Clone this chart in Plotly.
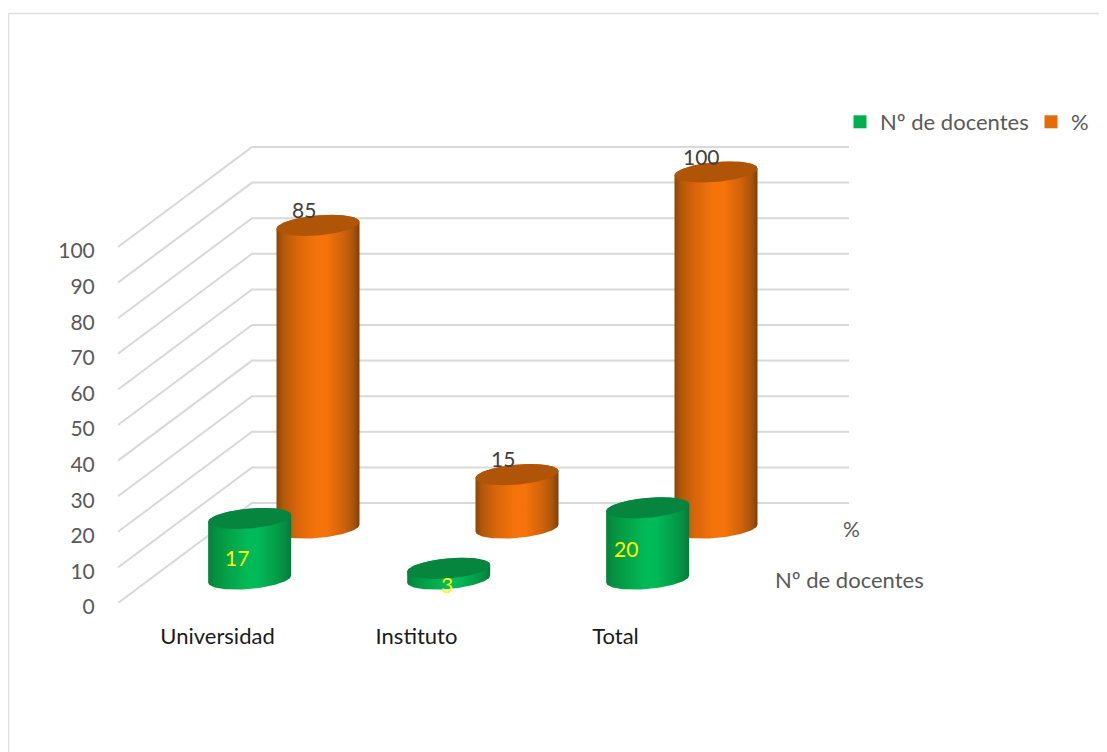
import numpy as np
import plotly.graph_objects as go

# ---- data ----
categories = ["Universidad", "Instituto", "Total"]
docentes = [17, 3, 20]
porcentaje = [85, 15, 100]
series_names = ["Nº de docentes", "%"]
y_ticks = list(range(0, 101, 10))

# ---- geometry of the oblique projection (axis units) ----
PAGE = 8                             # default page margin round the figure
W, H = 1107 - PAGE, 752 - PAGE
L, R, T, B = 118 - PAGE, 860 - PAGE, 140 - PAGE, 603 - PAGE   # plot area, figure pixels
PX_X = 199.0                         # pixels per category
PX_Y = 3.56                          # pixels per value unit
DEPTH_X = 134 / PX_X                 # full depth of the box, along x
DEPTH_Y = 100 / PX_Y                 # full depth of the box, along y
ROW_DEPTH = [0.24, 0.75]             # depth of the two series rows
RX = 41.5 / PX_X                     # cylinder radius
RY = 10.0 / PX_Y                     # ellipse half height
TILT = 3.5 / PX_Y                    # ellipse tilt

FONT = "Lato"
GREY = "#595959"
GRID = "#d9d9d9"

ORANGE = dict(top="#b05507", legend="#e46c0a",
              scale=[[0, "#8a4506"], [0.08, "#b3580a"], [0.25, "#d9660a"],
                     [0.47, "#f5730a"], [0.6, "#f5730a"], [0.8, "#d0630b"],
                     [0.93, "#a9530a"], [1, "#7d3f08"]])
GREEN = dict(top="#06853f", legend="#00b050",
             scale=[[0, "#067f3c"], [0.08, "#05903f"], [0.25, "#03a34a"],
                    [0.47, "#00ba58"], [0.6, "#00ba58"], [0.8, "#03a149"],
                    [0.93, "#058c42"], [1, "#06783a"]])

fig = go.Figure()

# walls: side wall then back wall, one polyline per tick value
for v in y_ticks:
    fig.add_trace(go.Scatter(
        x=[-0.5, -0.5 + DEPTH_X, -0.5 + DEPTH_X + len(categories)],
        y=[v, v + DEPTH_Y, v + DEPTH_Y],
        mode="lines", line=dict(color=GRID, width=2),
        showlegend=False, hoverinfo="skip"))


def cylinder(i, value, row, style):
    cx = i + ROW_DEPTH[row] * DEPTH_X
    base = ROW_DEPTH[row] * DEPTH_Y
    top = base + value
    t = np.linspace(0, 2 * np.pi, 121)
    ex = RX * np.cos(t)
    ey = RY * np.sin(t) + TILT * np.cos(t)
    low = np.linspace(0, -np.pi, 61)
    up = np.linspace(np.pi, 0, 61)
    bx = np.concatenate([cx + RX * np.cos(low), cx + RX * np.cos(up)])
    by = np.concatenate([base + RY * np.sin(low) + TILT * np.cos(low),
                         top + RY * np.sin(up) + TILT * np.cos(up)])
    fig.add_trace(go.Scatter(
        x=bx, y=by, mode="lines", line=dict(width=0), fill="toself",
        fillgradient=dict(type="horizontal", colorscale=style["scale"]),
        showlegend=False, hoverinfo="skip"))
    fig.add_trace(go.Scatter(
        x=cx + ex, y=top + ey, mode="lines", line=dict(width=0), fill="toself",
        fillcolor=style["top"], showlegend=False, hoverinfo="skip"))


# back row first so the front row overlaps it
for i, v in enumerate(porcentaje):
    cylinder(i, v, 1, ORANGE)
for i, v in enumerate(docentes):
    cylinder(i, v, 0, GREEN)

# legend entries, one legend per series so each can sit where it does in the reference
for name, style, lg in zip(series_names, (GREEN, ORANGE), ("legend", "legend2")):
    fig.add_trace(go.Scatter(
        x=[None], y=[None], mode="markers", name=name, legend=lg, showlegend=True,
        marker=dict(symbol="square", size=13, color=style["legend"])))

# data labels
ann = []
for i, v in enumerate(porcentaje):
    ann.append(dict(x=i + ROW_DEPTH[1] * DEPTH_X, y=ROW_DEPTH[1] * DEPTH_Y + v,
                    text=str(v), showarrow=False, xshift=-14.5, yshift=16,
                    font=dict(family=FONT, size=21, color="#404040")))
GREEN_SHIFT = [(-13, -9), (-2, -11), (-22, -5)]
for i, v in enumerate(docentes):
    ann.append(dict(x=i + ROW_DEPTH[0] * DEPTH_X,
                    y=ROW_DEPTH[0] * DEPTH_Y + v / 2,
                    text=str(v), showarrow=False,
                    xshift=GREEN_SHIFT[i][0], yshift=GREEN_SHIFT[i][1],
                    font=dict(family=FONT, size=21, color="#ffff00")))
# depth axis labels
last = len(categories) - 0.5
ann.append(dict(x=last + ROW_DEPTH[1] * DEPTH_X, y=ROW_DEPTH[1] * DEPTH_Y,
                text=series_names[1], showarrow=False, xshift=36, yshift=0,
                font=dict(family=FONT, size=21, color=GREY)))
ann.append(dict(x=last + ROW_DEPTH[0] * DEPTH_X, y=ROW_DEPTH[0] * DEPTH_Y,
                text=series_names[0], showarrow=False, xshift=102, yshift=0,
                font=dict(family=FONT, size=22, color=GREY)))

pw, ph = R - L, B - T
px_x = lambda p: (p - PAGE - L) / pw
px_y = lambda p: (B - (p - PAGE)) / ph


def legend_at(px, py):
    return dict(orientation="h", xref="paper", yref="paper",
                x=px_x(px), y=px_y(py),
                xanchor="left", yanchor="top",
                font=dict(family=FONT, size=22, color=GREY),
                bgcolor="rgba(0,0,0,0)", itemclick=False, itemdoubleclick=False)


fig.update_layout(
    width=W, height=H, autosize=False,
    margin=dict(l=L, r=W - R, t=T, b=H - B, pad=0),
    paper_bgcolor="white", plot_bgcolor="white",
    font=dict(family=FONT, size=20, color=GREY),
    annotations=ann,
    shapes=[
        dict(type="line", xref="paper", yref="paper", x0=px_x(8.5), x1=px_x(1107),
             y0=px_y(13.5), y1=px_y(13.5), line=dict(color="#e0e0e0", width=1.5)),
        dict(type="line", xref="paper", yref="paper", x0=px_x(8.5), x1=px_x(8.5),
             y0=px_y(13.5), y1=px_y(752), line=dict(color="#e0e0e0", width=1.5)),
    ],
    showlegend=True,
    legend=legend_at(840, 101),
    legend2=legend_at(1031, 101),
    xaxis=dict(range=[-0.5, (R - L) / PX_X - 0.5], tickmode="array",
               tickvals=list(range(len(categories))), ticktext=categories,
               showgrid=False, zeroline=False, showline=False,
               ticks="outside", ticklen=14, tickcolor="rgba(0,0,0,0)",
               tickfont=dict(family=FONT, size=22, color="#1a1a1a")),
    yaxis=dict(range=[0, (B - T) / PX_Y], tickmode="array",
               tickvals=y_ticks, ticktext=[str(v) for v in y_ticks],
               showgrid=False, zeroline=False, showline=False,
               ticks="outside", ticklen=18, tickcolor="rgba(0,0,0,0)",
               ticklabelshift=4,
               tickfont=dict(family=FONT, size=21, color=GREY)),
)

fig.write_html("out.html")
